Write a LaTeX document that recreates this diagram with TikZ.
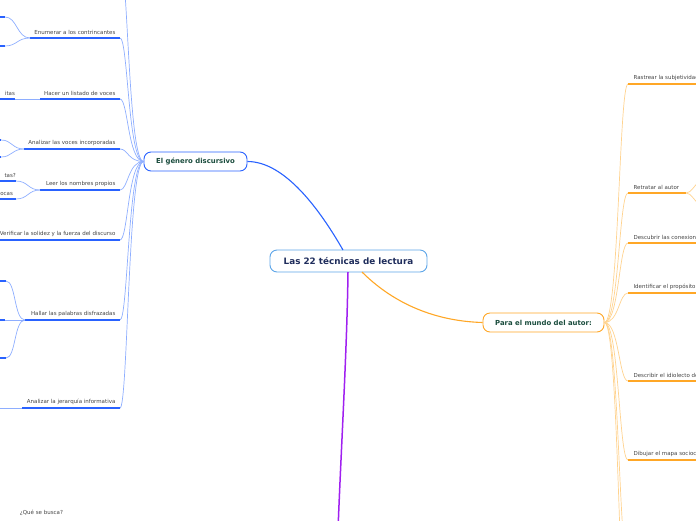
\documentclass[tikz,border=0pt]{standalone}
\usepackage{fontspec}
\setmainfont{DejaVu Sans}
\definecolor{bluemain}{HTML}{2962FF}
\definecolor{bluelight}{HTML}{8EAEFF}
\definecolor{orangemain}{HTML}{FFA726}
\definecolor{orangelight}{HTML}{FFD38F}
\definecolor{purplemain}{HTML}{A020F0}
\definecolor{centralborder}{HTML}{5DA5E8}
\definecolor{navytext}{HTML}{1F2D5C}
\definecolor{greentext}{HTML}{1B4D3E}
\definecolor{txtgray}{HTML}{444444}
\begin{document}
\begin{tikzpicture}[x=1pt,y=-1pt,
  lbl/.style={font=\fontsize{5.5}{6}\selectfont, text=txtgray, inner sep=0.4pt},
  lblL/.style={lbl, anchor=south east},
  lblR/.style={lbl, anchor=south west},
  topic/.style={draw, fill=white, rounded corners=7pt, line width=0.9pt, inner sep=0pt, align=center},
  bthick/.style={draw=bluemain, line width=1.6pt},
  bthin/.style={draw=bluelight, line width=0.7pt},
  othick/.style={draw=orangemain, line width=1.6pt},
  othin/.style={draw=orangelight, line width=0.7pt}]
\useasboundingbox (0,0) rectangle (696,520);
\clip (0,0) rectangle (696,520);

% ---------- main topics ----------
\node[topic, draw=centralborder, minimum width=157pt, minimum height=22pt,
      font=\bfseries\fontsize{8.8}{10}\selectfont, text=navytext] (central) at (348.5,261) {Las 22 técnicas de lectura};
\node[topic, draw=bluemain, minimum width=103pt, minimum height=19pt,
      font=\bfseries\fontsize{6.9}{8}\selectfont, text=greentext] (genero) at (195.5,161.5) {El género discursivo};
\node[topic, draw=orangemain, minimum width=121pt, minimum height=19pt,
      font=\bfseries\fontsize{6.9}{8}\selectfont, text=greentext] (autor) at (543.5,322.5) {Para el mundo del autor:};

\coordinate (ctop) at (343,250);
\coordinate (cbotR) at (362,272);
\coordinate (cbot) at (348,272);
\coordinate (purpleend) at (338,530);
\draw[bluemain, line width=1.1pt] (genero.east) .. controls (285,161.5) and (320,210) .. (ctop);
\draw[orangemain, line width=1.1pt] (cbotR) .. controls (390,300) and (430,321) .. (autor.west);
\draw[purplemain, line width=1.5pt] (cbot) .. controls (347,350) and (341,450) .. (purpleend);

% ---------- left branch ----------
\coordinate (hubL) at (genero.west);
\coordinate (l1e) at (120,-40);
\coordinate (l2e) at (120,38);   \coordinate (l2s) at (30,38);
\coordinate (l3e) at (120,99);   \coordinate (l3s) at (40,99);
\coordinate (l4e) at (120,149);  \coordinate (l4s) at (24,149);
\coordinate (l5e) at (120,190);  \coordinate (l5s) at (40,190);
\coordinate (l6e) at (120,240);  \coordinate (l6s) at (-2,240);
\coordinate (l7e) at (120,320);  \coordinate (l7s) at (25,320);
\coordinate (l8e) at (120,408);  \coordinate (l8s) at (22,408);

\foreach \c/\y in {l1e/-40,l2e/38,l3e/99,l4e/149,l5e/190,l6e/240,l7e/320,l8e/408}
  \draw[bthin] (hubL) .. controls (128,161.5) and (128,\y) .. (\c);

\foreach \s/\e in {l2s/l2e,l3s/l3e,l4s/l4e,l5s/l5e,l6s/l6e,l7s/l7e,l8s/l8e}
  \draw[bthick] (\s) -- (\e);

\node[lblL] (t2) at (116,35) {Enumerar a los contrincantes};
\node[lblL] (t3) at (116,96) {Hacer un listado de voces};
\node[lblL] (t4) at (116,146) {Analizar las voces incorporadas};
\node[lblL] (t5) at (116,187) {Leer los nombres propios};
\node[lblL] (t6) at (116,237) {Verificar la solidez y la fuerza del discurso};
\node[lblL] (t7) at (116,317) {Hallar las palabras disfrazadas};
\node[lblL] (t8) at (116,405) {Analizar la jerarquía informativa};

% sub-children
\coordinate (s2a) at (5,17);   \coordinate (s2a0) at (-5,17);
\coordinate (s2b) at (5,46);   \coordinate (s2b0) at (-5,46);
\draw[bthin] (l2s) .. controls (17,38) and (17,17) .. (s2a);
\draw[bthin] (l2s) .. controls (17,38) and (17,46) .. (s2b);
\draw[bthick] (s2a0) -- (s2a);
\draw[bthick] (s2b0) -- (s2b);

\coordinate (s3a) at (15,99);  \coordinate (s3a0) at (-5,99);
\draw[bthin] (l3s) -- (s3a);
\draw[bthick] (s3a0) -- (s3a);
\node[lblL] (u3a) at (15.5,96) {itas};

\coordinate (s4a) at (1,140);  \coordinate (s4a0) at (-5,140);
\coordinate (s4b) at (1,157);  \coordinate (s4b0) at (-5,157);
\draw[bthin] (l4s) .. controls (12,149) and (12,140) .. (s4a);
\draw[bthin] (l4s) .. controls (12,149) and (12,157) .. (s4b);
\draw[bthick] (s4a0) -- (s4a);
\draw[bthick] (s4b0) -- (s4b);

\coordinate (s5a) at (16,181); \coordinate (s5a0) at (-5,181);
\coordinate (s5b) at (16,199); \coordinate (s5b0) at (-5,199);
\draw[bthin] (l5s) .. controls (28,190) and (28,181) .. (s5a);
\draw[bthin] (l5s) .. controls (28,190) and (28,199) .. (s5b);
\draw[bthick] (s5a0) -- (s5a);
\draw[bthick] (s5b0) -- (s5b);
\node[lblL] (u5a) at (16.5,178) {tas?};
\node[lblL] (u5b) at (13.5,196) {ocas};

\coordinate (s7a) at (6,281);  \coordinate (s7a0) at (-5,281);
\coordinate (s7b) at (5,320);  \coordinate (s7b0) at (-5,320);
\coordinate (s7c) at (6,358);  \coordinate (s7c0) at (-5,358);
\draw[bthin] (l7s) .. controls (14,320) and (16,281) .. (s7a);
\draw[bthin] (l7s) -- (s7b);
\draw[bthin] (l7s) .. controls (14,320) and (16,358) .. (s7c);
\draw[bthick] (s7a0) -- (s7a);
\draw[bthick] (s7b0) -- (s7b);
\draw[bthick] (s7c0) -- (s7c);

\coordinate (s8a) at (-5,408);
\draw[bthin] (l8s) -- (s8a);

\node[lbl] (busca) at (41.5,512.5) {¿Qué se busca?};

% ---------- right branch ----------
\coordinate (hubR) at (autor.east);
\coordinate (r1s) at (628,84);   \coordinate (r1e) at (700,84);
\coordinate (r2s) at (628,193);  \coordinate (r2e) at (686,193);
\coordinate (r3s) at (628,243);  \coordinate (r3e) at (700,243);
\coordinate (r4s) at (628,293);  \coordinate (r4e) at (700,293);
\coordinate (r5s) at (628,381);  \coordinate (r5e) at (700,381);
\coordinate (r6s) at (628,460);  \coordinate (r6e) at (700,460);
\coordinate (r7s) at (628,565);
\coordinate (r8s) at (628,650);

\foreach \c/\y in {r1s/84,r2s/193,r3s/243,r4s/293,r5s/381,r6s/460,r7s/565,r8s/650}
  \draw[othin] (hubR) .. controls (619,322.5) and (619,\y) .. (\c);

\foreach \s/\e in {r1s/r1e,r2s/r2e,r3s/r3e,r4s/r4e,r5s/r5e,r6s/r6e}
  \draw[othick] (\s) -- (\e);

\coordinate (r2a) at (700,182);
\coordinate (r2b) at (700,204);
\draw[othin] (r2e) .. controls (692,193) and (694,184) .. (r2a);
\draw[othin] (r2e) .. controls (692,193) and (694,202) .. (r2b);

\node[lblR] (q1) at (633,81) {Rastrear la subjetividad};
\node[lblR] (q2) at (633,190) {Retratar al autor};
\node[lblR] (q3) at (633,240) {Descubrir las conexiones};
\node[lblR] (q4) at (633,290) {Identificar el propósito};
\node[lblR] (q5) at (633,378) {Describir el idiolecto de};
\node[lblR] (q6) at (633,457) {Dibujar el mapa sociocultural};
\end{tikzpicture}
\end{document}
